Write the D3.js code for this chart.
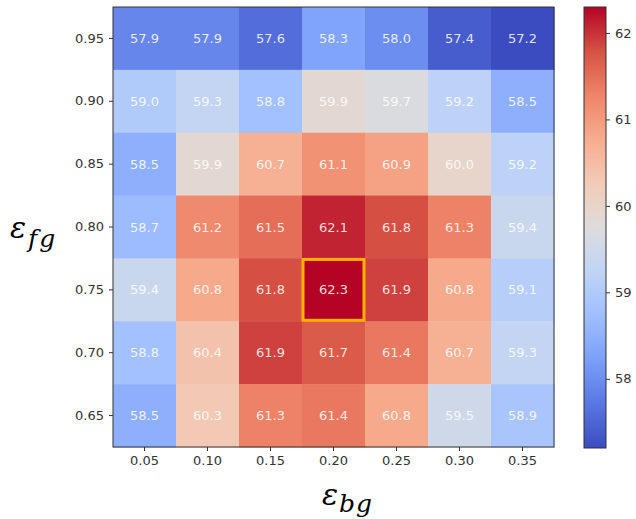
<!DOCTYPE html>
<html><head><meta charset="utf-8">
<script src="https://cdn.jsdelivr.net/npm/d3@7"></script>
<style>body{margin:0;background:#fff}</style>
</head><body>
<svg id="c" width="636" height="519"></svg>
<script>
const xCats = ["0.05","0.10","0.15","0.20","0.25","0.30","0.35"];
const yCats = ["0.95","0.90","0.85","0.80","0.75","0.70","0.65"];
const values = [
  [57.9,57.9,57.6,58.3,58.0,57.4,57.2],
  [59.0,59.3,58.8,59.9,59.7,59.2,58.5],
  [58.5,59.9,60.7,61.1,60.9,60.0,59.2],
  [58.7,61.2,61.5,62.1,61.8,61.3,59.4],
  [59.4,60.8,61.8,62.3,61.9,60.8,59.1],
  [58.8,60.4,61.9,61.7,61.4,60.7,59.3],
  [58.5,60.3,61.3,61.4,60.8,59.5,58.9]
];
const cbTicks = [58,59,60,61,62];
const highlight = {x:"0.20", y:"0.75"};
const vmin = 57.2, vmax = 62.3;

const coolwarm = ["#3b4cc0","#5977e3","#7b9ff9","#9ebeff","#c0d4f5","#dddcdc","#f2cbb7","#f7ac8e","#ee8468","#d65244","#b40426"];
const cmap = d3.scaleLinear().domain(d3.range(11).map(i=>i/10)).range(coolwarm).interpolate(d3.interpolateRgb);
const norm = d3.scaleLinear().domain([vmin,vmax]).clamp(true);
const color = v => cmap(norm(v));

const svg = d3.select("#c");
const L=113, T=7, W=441, H=440;
const x = d3.scaleBand().domain(xCats).range([L,L+W]);
const y = d3.scaleBand().domain(yCats).range([T,T+H]);

const cells = [];
yCats.forEach((yc,i)=>xCats.forEach((xc,j)=>cells.push({x:xc,y:yc,v:values[i][j]})));

svg.append("g").selectAll("rect").data(cells).join("rect")
  .attr("x",d=>x(d.x)).attr("y",d=>y(d.y))
  .attr("width",x.bandwidth()+0.5).attr("height",y.bandwidth()+0.5)
  .attr("fill",d=>color(d.v));

svg.append("g").selectAll("text").data(cells).join("text")
  .attr("x",d=>x(d.x)+x.bandwidth()/2).attr("y",d=>y(d.y)+y.bandwidth()/2)
  .attr("text-anchor","middle").attr("dominant-baseline","central")
  .attr("font-family","DejaVu Sans").attr("font-size",13)
  .attr("fill","#ffffff").attr("fill-opacity",0.85)
  .text(d=>d.v.toFixed(1));

svg.append("rect")
  .attr("x",x(highlight.x)+1).attr("y",y(highlight.y)+1)
  .attr("width",x.bandwidth()-2).attr("height",y.bandwidth()-2)
  .attr("fill","none").attr("stroke","#ffb000").attr("stroke-width",3);

svg.append("rect").attr("x",L).attr("y",T).attr("width",W).attr("height",H)
  .attr("fill","none").attr("stroke","#333").attr("stroke-width",1);

const xAxis = svg.append("g").attr("transform",`translate(0,${T+H})`)
  .call(d3.axisBottom(x).tickSize(4).tickPadding(5));
const yAxis = svg.append("g").attr("transform",`translate(${L},0)`)
  .call(d3.axisLeft(y).tickSize(4).tickPadding(5));
[xAxis,yAxis].forEach(a=>{
  a.select(".domain").remove();
  a.selectAll("line").attr("stroke","#333");
  a.selectAll("text").attr("font-family","DejaVu Sans").attr("font-size",13).attr("fill","#333");
});

// colorbar
const cbX=584, cbW=22, cbT=7, cbB=448;
const cy = d3.scaleLinear().domain([vmin,vmax]).range([cbB,cbT]);
const defs = svg.append("defs");
const grad = defs.append("linearGradient").attr("id","g").attr("x1",0).attr("y1",1).attr("x2",0).attr("y2",0);
d3.range(0,1.0001,0.05).forEach(t=>grad.append("stop").attr("offset",t).attr("stop-color",cmap(t)));
svg.append("rect").attr("x",cbX).attr("y",cbT).attr("width",cbW).attr("height",cbB-cbT)
  .attr("fill","url(#g)").attr("stroke","#333").attr("stroke-width",1);
const cAxis = svg.append("g").attr("transform",`translate(${cbX+cbW},0)`)
  .call(d3.axisRight(cy).tickValues(cbTicks).tickFormat(d3.format("d")).tickSize(4).tickPadding(5));
cAxis.select(".domain").remove();
cAxis.selectAll("line").attr("stroke","#333");
cAxis.selectAll("text").attr("font-family","DejaVu Sans").attr("font-size",13).attr("fill","#333");

// axis labels
const yl = svg.append("text").attr("x",10).attr("y",238)
  .attr("font-family","DejaVu Serif").attr("font-style","italic").attr("fill","#000");
yl.append("tspan").attr("font-size",30).text("ε");
yl.append("tspan").attr("font-size",25).attr("dy",9).attr("dx",2).attr("letter-spacing",2).text("fg");

const xl = svg.append("text").attr("x",322).attr("y",505)
  .attr("font-family","DejaVu Serif").attr("font-style","italic").attr("fill","#000");
xl.append("tspan").attr("font-size",30).text("ε");
xl.append("tspan").attr("font-size",25).attr("dy",7).attr("dx",1).attr("letter-spacing",1).text("bg");
</script>
</body></html>
